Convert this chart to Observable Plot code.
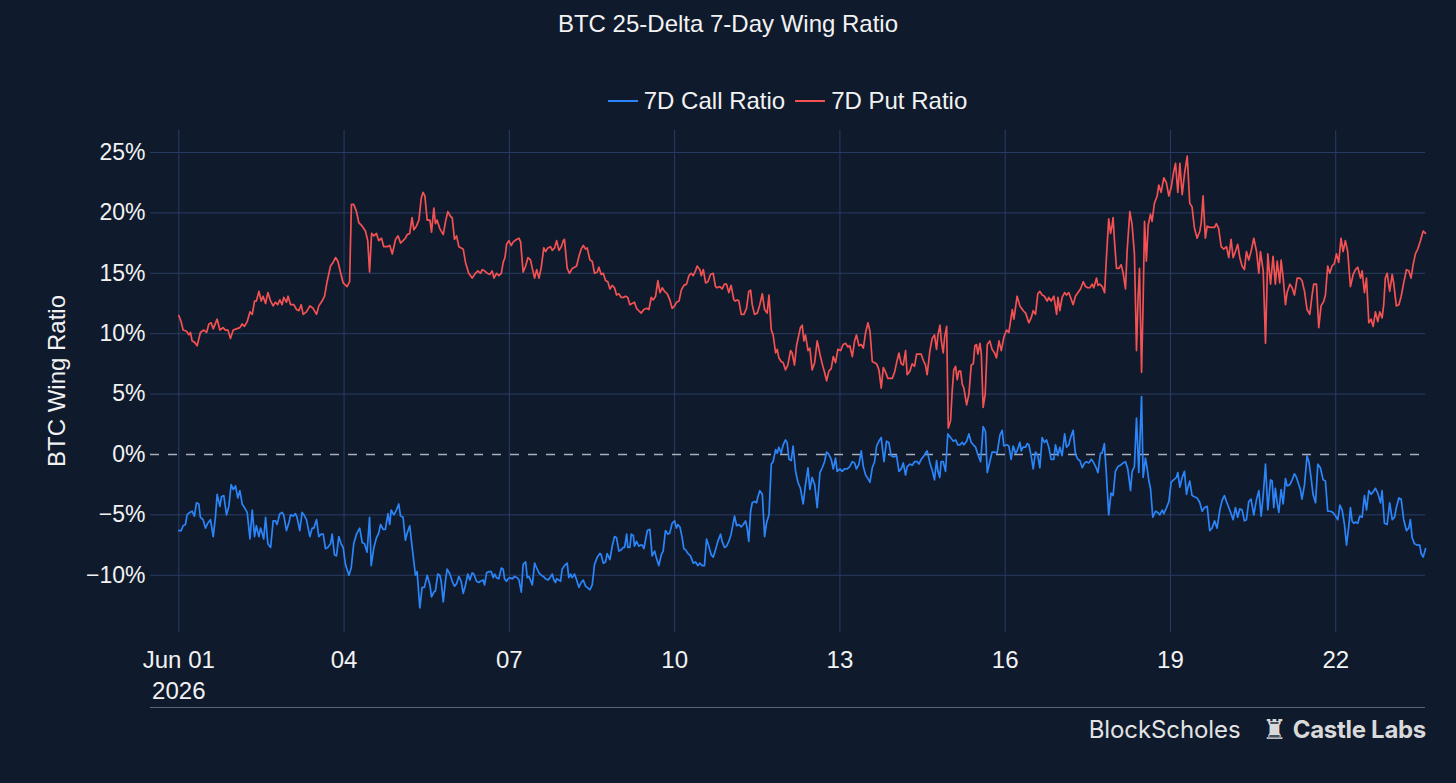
<!DOCTYPE html>
<html>
<head>
<meta charset="utf-8">
<script src="https://cdn.jsdelivr.net/npm/d3@7"></script>
<script src="https://cdn.jsdelivr.net/npm/@observablehq/plot@0.6"></script>
<style>
  html, body { margin: 0; padding: 0; background: #0f1a2d; }
  body { font-family: "Liberation Sans", Arial, sans-serif; color: #f2f2f2; }
  #wrap { position: relative; width: 1456px; height: 783px; overflow: hidden; background: #0f1a2d; }
  #title { height: 48px; line-height: 48px; text-align: center; font-size: 24px; }
  #legend { box-sizing: border-box; height: 72px; padding: 34px 31px 0 150px; display: flex; justify-content: center; font-size: 24px; line-height: 24px; }
  .item { display: flex; align-items: center; margin: 0 5px; }
  .sw { display: inline-block; width: 30px; height: 0; border-top: 2px solid; margin-right: 6px; }
  #ylabel { position: absolute; left: 57px; top: 381px; transform: translate(-50%, -50%) rotate(-90deg); font-size: 24px; white-space: nowrap; }
  #rule { position: absolute; left: 150px; top: 707px; width: 1275px; border-top: 1px solid #5d6679; }
  #logos { position: absolute; right: 30px; top: 708px; height: 42px; display: flex; align-items: center; color: #e3e3e3; }
  #bs { font-family: Inter, "Open Sans", sans-serif; font-weight: 400; font-size: 24px; letter-spacing: -0.1px; margin-right: 22px; }
  #castle { font-family: "DejaVu Sans", sans-serif; font-size: 27px; margin-right: 6px; color: #d9d9d9; }
  #cl { font-family: Inter, "Open Sans", sans-serif; font-weight: 700; font-size: 24px; letter-spacing: -0.3px; color: #d9d9d9; }
</style>
</head>
<body>
<div id="wrap">
  <div id="title"></div>
  <div id="legend"></div>
  <div id="chart"></div>
  <div id="ylabel"></div>
  <div id="rule"></div>
  <div id="logos"><span id="bs">BlockScholes</span><span id="castle">♜</span><span id="cl">Castle Labs</span></div>
</div>
<script>
// ---- data: [hours since 2026-06-01 00:00 UTC, ratio in %] ----
const putRatio = [[0,11.5],[1,11.0],[1.9,10.3],[3.4,10.2],[4.4,9.9],[5.1,10.1],[5.8,9.4],[6.8,9.3],[8,9.0],[9.4,10.1],[10.9,10.3],[12.1,10.1],[13.1,10.8],[14.1,10.9],[15,10.4],[16.7,11.2],[17.9,10.3],[19.3,10.5],[20.3,10.3],[21.4,10.3],[22.5,9.6],[23.7,10.3],[25.1,10.4],[26.6,10.5],[27.6,10.8],[28.6,10.6],[29.8,11.0],[31,11.8],[32,11.6],[33,12.7],[33.8,12.7],[34.9,13.5],[35.9,12.7],[36.7,13.1],[37.8,12.5],[38.8,13.4],[40,12.7],[41.1,12.3],[42.1,12.6],[43.1,12.4],[44,12.8],[45,12.4],[45.7,13.0],[46.9,12.6],[47.6,13.1],[48.7,12.4],[50.1,12.4],[51.3,12.0],[52.3,11.9],[53.3,12.4],[54.2,11.6],[55.6,11.8],[57.1,12.3],[58.5,12.1],[60,11.6],[61,12.3],[62.4,12.7],[63.5,13.1],[64.6,14.3],[66.1,15.6],[67.2,15.9],[68.3,16.3],[69.3,16.0],[70.4,15.1],[71.6,14.2],[73.3,13.9],[74.4,14.3],[75.2,20.7],[76.2,20.7],[77.4,20.1],[78.4,19.2],[79.9,18.9],[81.3,18.5],[82.3,17.7],[83.1,15.1],[84,18.3],[85,18.1],[86.1,18.3],[87.1,17.7],[88.3,17.9],[89.3,17.2],[90.8,17.2],[91.9,17.3],[93,16.6],[94.4,17.8],[95.5,18.1],[96.6,17.5],[97.7,17.7],[98.7,17.9],[99.5,18.2],[100.6,18.3],[101.6,19.6],[102.4,18.6],[103.5,18.9],[104.6,19.4],[105.6,21.2],[106.4,21.7],[107.2,21.4],[108.2,19.4],[109.4,19.4],[110.1,18.4],[111.1,20.4],[111.8,19.1],[112.5,19.4],[113.7,18.7],[115.2,18.2],[116.2,19.3],[117.2,20.1],[118.4,19.7],[119.1,19.6],[120.1,17.8],[121,18.1],[122,17.2],[123,17.1],[123.9,17.0],[124.9,15.9],[126.3,15.0],[127.8,14.6],[129.2,15.0],[130.3,15.2],[131.4,15.0],
[132.2,15.3],[133.2,15.2],[134.4,15.0],[135.5,14.9],[136.5,15.2],[137.3,14.6],[138.4,15.0],[139.4,14.8],[140.5,15.0],[141.3,15.9],[142.1,16.3],[142.8,17.4],[143.8,17.7],[144.8,17.3],[145.7,17.6],[147.1,17.8],[148.2,17.9],[148.9,17.6],[150,15.1],[151.1,15.6],[152.1,16.3],[153.2,16.1],[154,15.4],[155,14.6],[155.9,15.3],[156.9,14.6],[157.9,15.5],[159,17.1],[159.8,16.8],[160.8,17.1],[161.9,17.2],[162.7,16.9],[163.7,17.1],[164.6,17.7],[165.6,16.9],[166.6,17.2],[167.5,17.7],[168,17.8],[169.2,15.4],[170.2,15.0],[171.4,15.4],[172.4,15.5],[173.3,15.6],[174.3,16.4],[175.3,17.0],[176.2,17.3],[177.2,17.0],[177.9,17.1],[179.1,16.1],[180.1,16.0],[181.1,15.0],[182.3,15.1],[183,15.5],[184,14.9],[184.9,15.0],[185.9,14.4],[186.9,14.3],[187.8,13.7],[188.8,14.0],[189.8,13.8],[190.7,13.2],[191.7,13.3],[192.7,13.0],[193.6,13.0],[194.6,13.1],[195.6,13.0],[196.5,12.4],[197.5,12.5],[198.5,12.6],[199.4,12.1],[200.4,11.9],[201.4,11.7],[202.6,12.0],[203.8,12.1],[204.8,12.0],[205.8,13.0],[206.7,12.8],[207.7,13.1],[208.7,14.4],[209.6,13.4],[210.6,13.8],[211.6,13.5],[212.8,13.3],[213.9,12.8],[214.9,12.1],[216,12.3],[216.8,12.6],[217.9,12.7],[218.9,13.6],[220,14.0],[221.2,14.1],[222.2,14.8],[223.2,15.0],[224.1,14.8],[225.1,15.2],[225.8,15.6],[227,15.3],[227.6,14.8],[228.5,15.3],[229.5,14.2],[230.5,14.3],[231.6,14.9],[232.8,15.0],[233.8,13.9],[234.5,13.8],[235.7,13.9],[236.7,13.7],[237.7,14.1],[238.6,14.1],[239.6,13.4],[240.6,14.0],[241.8,12.8],[242.5,12.7],[243.3,12.8],[244,12.7],[245,11.6],[246.2,11.6],[247.3,12.1],[248.3,13.5],[249.1,13.6],[249.8,12.4],[250.8,11.6],[252,11.7],[253.1,12.4],[254.2,13.3],[255.2,12.0],[256.3,11.7],[257.1,13.2],[258.1,10.3],[258.9,9.9],[260,8.4],[260.7,8.7],[261.4,8.0],[262.4,7.7],[263.3,7.6],[264.3,7.0],[265.3,7.4],[266.5,8.6],[267.2,8.4],[268.2,7.4],[269.1,9.0],[270.1,9.9],[270.8,10.5],
[271.6,10.7],[272.3,9.4],[273,9.9],[274.1,8.6],[274.9,8.8],[275.9,7.0],[277,7.6],[278.1,9.4],[279.3,8.3],[280.3,7.5],[281.3,6.8],[282.2,6.1],[283.2,6.9],[284.2,7.1],[285.1,8.1],[286.1,7.6],[287.1,8.7],[288.3,8.6],[289.4,9.1],[290.5,9.2],[291.5,8.9],[292.3,9.0],[293.4,8.1],[294.4,9.4],[295.2,9.9],[296.3,9.0],[297.3,9.1],[298.2,8.8],[299.2,10.1],[300.2,10.9],[301.1,10.2],[302.1,7.7],[303.1,7.6],[304,7.5],[305,7.0],[306,5.5],[306.9,7.2],[307.9,6.8],[308.9,6.3],[309.8,6.3],[310.8,6.3],[311.8,6.8],[312.7,7.6],[313.7,8.4],[314.7,7.5],[315.6,7.4],[316.6,8.6],[317.3,6.6],[318.5,6.9],[319.5,7.5],[320.5,7.3],[321.4,8.3],[322.4,8.3],[323.4,8.3],[324.3,7.8],[325.3,7.4],[326,6.6],[327.2,8.6],[328.2,9.6],[329.2,9.9],[330.1,8.7],[330.7,9.9],[331.6,10.7],[332.1,9.5],[333,8.4],[333.6,9.7],[334.5,10.6],[335.2,2.2],[336.2,2.8],[336.9,5.2],[337.6,7.0],[338.4,7.3],[339.1,6.2],[339.8,6.9],[340.6,6.9],[341.3,5.8],[342,5.5],[343.2,4.1],[344.2,5.0],[345.2,7.4],[346.1,7.5],[346.8,9.0],[347.5,9.1],[348.1,8.3],[349,9.2],[349.6,8.3],[350.4,3.9],[351.3,5.0],[352.2,9.1],[353.3,9.4],[354.3,8.7],[355.4,8.4],[356.2,8.0],[357.3,9.4],[358.3,8.6],[359.4,9.7],[360.6,10.3],[361.6,10.1],[363.1,12.0],[363.8,11.2],[365.2,13.1],[366.4,12.3],[367.9,11.9],[368.9,11.7],[370.3,10.9],[371.3,11.3],[372.2,11.9],[373.2,11.6],[374.2,13.3],[375.1,13.5],[376.1,13.2],[377.1,13.1],[378.3,12.7],[379,13.0],[380,12.7],[381.2,13.1],[382.4,11.6],[383,13.0],[383.8,11.9],[384.8,13.0],[385.9,13.4],[386.7,13.2],[387.7,13.4],[388.5,13.0],[389.6,12.4],[390.6,13.1],[391.7,13.4],[392.8,13.7],[394,14.3],[395,13.9],[396,13.8],[396.9,13.8],[397.9,14.1],[398.6,13.8],[399.8,14.6],[400.4,14.0],[401.2,14.1],[402.3,13.9],[403.3,13.4],
[404.1,16.3],[405.1,19.5],[405.9,18.3],[406.6,19.0],[407,19.6],[407.6,17.7],[408.5,15.4],[409.5,15.4],[410.5,15.7],[411.4,15.0],[412.4,13.7],[413.1,16.8],[414.3,20.1],[415.3,19.0],[416.3,16.6],[417.2,8.6],[417.9,13.0],[418.5,15.4],[419.4,6.8],[420.1,12.7],[420.7,19.3],[421.5,16.0],[422.3,19.0],[423.3,19.9],[424,19.3],[425,20.8],[426.2,21.4],[426.9,22.3],[427.9,21.7],[429.1,22.9],[430.2,22.5],[431.3,21.4],[432.3,22.1],[433.4,23.4],[434.2,24.1],[435.2,21.7],[436.1,24.1],[437.1,21.5],[438.1,23.2],[439.3,24.7],[440.4,20.8],[441.4,20.5],[442.4,18.8],[443.6,17.9],[444.8,18.5],[445.4,19.2],[446.2,21.4],[447.2,17.9],[448,18.9],[449.1,18.8],[450.1,18.8],[451.2,18.8],[452,19.1],[453,18.7],[454.1,17.2],[455.2,17.0],[456.4,17.2],[457.4,16.3],[458.4,17.8],[459.3,16.3],[460.3,16.8],[461.3,17.4],[462.2,16.3],[463.2,15.6],[464.2,15.3],[465.1,16.8],[466.1,16.1],[467.1,16.8],[468.3,17.9],[469.5,16.8],[470.5,15.0],[471.2,16.8],[472.4,15.2],[473.4,9.2],[474.4,16.6],[475.6,14.1],[476.7,16.4],[477.7,14.1],[478.5,16.0],[479.6,14.2],[480.2,16.1],[481.1,14.6],[482.1,12.4],[482.8,13.4],[484,14.1],[485,13.8],[486,13.2],[487.2,14.6],[488.3,14.6],[489.3,14.4],[490.4,13.5],[491.5,12.0],[492.7,11.6],[493.7,13.2],[494.4,14.1],[495.6,14.1],[496.6,10.5],[497.6,12.3],[498.8,12.7],[499.5,13.2],[500.5,15.6],[501.4,15.0],[502.4,15.6],[503.4,15.8],[504.3,16.6],[505.3,15.9],[506.3,17.9],[507.2,16.8],[508.2,17.7],[509.2,16.8],[510.4,13.9],[511.6,14.9],[512.6,15.3],[513.6,15.5],[514.8,14.6],[515.5,15.2],[516.5,13.4],[517.4,14.6],[518.4,10.9],[519.4,11.2],[520.3,10.6],[521.3,11.8],[522.3,11.0],[523.2,11.8],[524.2,11.3],[524.9,12.4],[525.6,14.6],[526.4,15.0],[527.5,13.5],[528.6,14.9],[529.3,14.1],[530.4,12.3],[531.5,12.4],[532.5,13.1],[533.6,14.2],[534.8,15.3],[535.8,15.2],[536.8,14.6],[537.7,15.7],[538.7,16.6],[539.7,17.0],[540.9,17.7],[542.1,18.5],[543.1,18.3]];

const callRatio = [[0,-6.3],[1,-6.3],[1.9,-5.9],[2.9,-5.8],[3.6,-5.0],[4.8,-4.8],[5.8,-4.7],[6.8,-5.1],[7.7,-4.0],[8.7,-4.1],[9.4,-5.2],[10.6,-5.4],[11.6,-6.1],[12.6,-5.7],[13.8,-5.4],[15,-6.8],[16,-5.1],[16.7,-3.3],[17.9,-4.3],[18.6,-3.5],[19.6,-3.4],[20.8,-5.0],[21.8,-4.3],[22.8,-2.5],[23.7,-2.9],[24.7,-2.6],[25.7,-3.6],[26.6,-3.0],[27.6,-4.1],[28.6,-4.4],[29.8,-4.8],[31,-7.0],[32,-4.6],[33,-6.8],[33.8,-5.9],[34.9,-6.8],[35.6,-6.1],[36.3,-6.5],[37,-7.0],[37.8,-5.2],[38.8,-7.4],[40,-7.7],[41.1,-5.5],[42.1,-5.5],[42.8,-5.8],[44,-4.9],[45,-4.8],[45.7,-5.0],[46.9,-6.3],[47.9,-5.7],[48.7,-5.0],[49.8,-5.1],[50.8,-4.9],[51.5,-5.2],[52.7,-6.3],[53.7,-4.8],[54.5,-5.0],[55.6,-5.4],[57.1,-6.8],[58.1,-6.1],[58.8,-6.1],[60,-5.4],[61,-6.8],[62,-6.6],[62.9,-6.6],[63.9,-7.8],[64.9,-7.7],[66.1,-7.4],[66.8,-6.6],[67.8,-8.3],[68.7,-8.4],[69.7,-6.8],[70.7,-7.4],[71.6,-7.7],[72.6,-9.1],[74.1,-10.0],[75.1,-9.4],[76.2,-7.4],[77.4,-6.6],[78.8,-6.1],[79.9,-7.3],[80.9,-7.4],[82,-8.1],[83.1,-5.2],[83.8,-9.2],[85,-7.7],[86.1,-6.9],[87.1,-6.5],[87.9,-5.8],[89,-6.2],[90,-6.2],[91.1,-4.9],[91.9,-5.8],[92.5,-4.6],[93.7,-5.0],[94.8,-4.6],[95.8,-4.1],[96.6,-5.1],[97.7,-5.2],[98.7,-7.1],[99.5,-6.5],[100.6,-5.9],[101.6,-7.6],[102.4,-8.9],[103.1,-10.0],[103.8,-9.7],[105,-12.7],[106,-11.0],[107,-11.0],[108.2,-10.0],[109.4,-10.8],[110.1,-11.8],[111.1,-11.4],[111.8,-11.3],[112.8,-9.9],[113.7,-10.0],[114.3,-10.5],[115.2,-12.2],[116.2,-10.4],[116.9,-9.5],[118.1,-9.9],[119.1,-10.5],[120.1,-10.9],[121,-10.7],[122,-10.1],[123,-10.5],[123.9,-11.5],[124.9,-10.8],[125.9,-9.9],[126.8,-10.4],[127.8,-9.8],[128.5,-9.9],[129.7,-10.5],[130.7,-10.6],[131.4,-10.5],
[132.6,-10.4],[133.2,-10.8],[134.1,-9.8],[135.1,-9.7],[136.1,-9.7],[137,-10.2],[137.6,-9.9],[138.4,-10.2],[139.4,-10.3],[140.5,-9.4],[141.3,-9.5],[141.9,-10.3],[142.8,-10.5],[143.4,-10.3],[144.2,-10.2],[145.3,-10.3],[146.3,-10.1],[147.4,-10.2],[148.2,-10.4],[149.2,-11.4],[150,-9.1],[151.1,-8.9],[151.8,-10.2],[152.5,-10.1],[153.2,-10.4],[154,-10.8],[155,-9.0],[155.9,-9.4],[156.9,-9.8],[157.9,-10.0],[158.8,-10.1],[159.8,-10.3],[160.8,-10.4],[161.7,-10.2],[162.7,-9.9],[163.4,-10.4],[164.1,-10.6],[164.6,-10.3],[165.6,-10.4],[166.3,-10.5],[167,-9.5],[168,-9.2],[169.2,-9.0],[169.9,-10.2],[170.7,-9.9],[171.4,-10.2],[172.4,-9.9],[173.3,-10.4],[174.3,-11.0],[175.3,-10.6],[176.2,-10.4],[177.2,-10.9],[177.9,-11.0],[179.1,-11.2],[180.1,-10.8],[181.1,-9.1],[182.3,-8.5],[183.4,-8.2],[184,-8.3],[184.9,-9.0],[185.9,-8.9],[186.6,-8.2],[187.8,-8.7],[188.8,-7.6],[189.8,-6.8],[190.7,-6.9],[191.7,-8.0],[192.7,-7.9],[193.6,-7.7],[194.2,-7.7],[195.1,-6.6],[195.6,-7.7],[196.5,-7.7],[197.1,-6.6],[198,-6.7],[198.5,-7.6],[199.4,-7.2],[200.4,-7.6],[201.2,-7.5],[201.9,-7.5],[202.6,-7.8],[203.3,-7.1],[204.1,-6.3],[205.2,-6.2],[206.2,-8.4],[207.3,-8.0],[208.1,-8.6],[209.1,-9.2],[210.2,-8.3],[211,-8.0],[212,-6.3],[213.1,-6.6],[213.9,-6.5],[214.9,-5.7],[216,-5.5],[216.8,-6.1],[217.4,-5.8],[218.3,-6.0],[219.3,-6.9],[220,-7.8],[220.8,-7.9],[221.8,-8.2],[222.9,-8.4],[224.1,-9.0],[225.1,-8.9],[226.1,-9.2],[227,-9.0],[228,-9.2],[229,-9.2],[229.9,-7.0],[230.9,-7.6],[231.9,-8.3],[232.8,-8.5],[233.8,-7.9],[234.8,-7.2],[236,-6.6],[236.7,-7.2],[237.7,-7.7],[238.6,-7.6],[239.6,-7.2],[240.6,-6.6],[242.1,-5.1],[243,-5.9],[244,-5.8],[245,-6.0],[245.9,-5.8],[246.9,-5.5],[247.6,-6.1],[248.3,-7.2],[249.1,-4.7],[249.8,-4.0],[250.8,-3.9],[251.7,-4.0],[252.3,-3.5],[253.1,-3.0],[254.2,-3.3],[255.2,-6.8],[256,-5.7],[257.1,-5.0],[258.1,-0.8],[258.9,-0.6],[260,0.4],[260.7,0.1],[261.4,0.6],[262.4,0.1],[263.3,0.8],[264.3,1.2],[265,1.0],[265.8,-0.4],[266.8,-0.5],[267.6,0.7],[268.7,-1.4],[269.7,-2.3],[270.8,-2.8],
[272,-4.1],[273,-2.5],[274.1,-1.1],[274.9,-2.9],[275.9,-1.9],[277,-2.5],[278.1,-4.4],[279.3,-1.5],[280.3,-1.1],[281.3,-0.6],[282.2,0.2],[283.2,0.0],[284.2,-0.4],[285.1,-1.2],[286.1,-0.3],[286.8,-1.4],[288,-1.2],[289,-1.4],[290,-1.2],[291.2,-1.2],[292.3,-1.0],[293.4,-0.6],[294.4,-0.7],[295.2,-1.2],[296.3,-0.8],[297.3,0.3],[298.2,-1.0],[299.2,-1.7],[300.2,-2.0],[301.1,-2.3],[302.1,-1.1],[303.1,-0.6],[304,0.7],[305,1.1],[306,1.4],[307.2,-0.6],[308.3,1.1],[309.3,1.0],[310.3,-0.1],[311.5,-0.2],[312.7,-0.1],[313.7,-1.4],[314.7,-1.2],[315.6,-0.7],[316.6,-1.7],[317.3,-1.0],[318.5,-0.8],[319.5,-0.9],[320.5,-0.6],[321.7,-0.6],[322.4,-0.8],[323.4,-0.4],[324.3,-0.2],[325.3,0.1],[326,0.3],[327.2,-0.7],[328.2,-1.3],[329.2,-2.1],[330.1,-0.5],[330.7,-1.4],[331.5,-1.9],[332.1,-0.6],[333,-0.6],[334,-1.4],[335,1.7],[336.2,1.4],[337.4,1.1],[338.4,1.2],[339.4,0.8],[340.3,0.8],[341.3,1.0],[342,0.8],[343.2,1.1],[344.2,1.7],[345.2,1.0],[346.1,0.8],[347.1,0.6],[348.1,0.0],[349.3,-0.6],[350.4,2.3],[351.4,1.9],[352.2,-1.5],[353.3,-0.6],[354.3,0.2],[355.4,0.2],[356.5,0.1],[357.7,1.6],[358.7,2.0],[359.4,0.7],[360.6,0.8],[361.6,0.7],[362.6,-0.4],[363.5,0.7],[364.5,0.1],[365.2,0.3],[366.4,1.0],[367,0.3],[367.8,0.6],[368.9,0.6],[369.6,0.9],[370.3,0.8],[371.3,-0.1],[372.2,-1.2],[373.2,0.2],[374.2,-0.1],[375.1,-1.1],[376.1,1.4],[377.1,1.0],[378,1.2],[379,0.6],[380,-0.4],[381.2,-0.4],[381.9,0.8],[383,-0.1],[383.8,0.6],[384.8,-0.1],[385.9,1.7],[386.7,0.6],[387.7,0.8],[388.5,1.4],[389.6,2.0],[390.6,0.0],[391.7,-0.4],[392.5,-0.5],[393.6,-1.1],[394.6,-0.7],[395.4,-0.6],[396.5,-0.7],[397.5,-0.4],[398.3,-0.6],[399.4,-1.0],[400.4,-1.5],[401.5,0.1],
[402.2,0.1],[403.2,0.9],[404.1,-1.7],[405.1,-5.0],[406.1,-3.2],[407,-3.4],[408,-1.4],[409.1,-1.0],[410.2,-0.9],[411.4,-0.7],[412.4,-0.6],[413.4,-1.2],[414.6,-3.0],[415.3,-1.4],[416.3,-1.0],[417.2,3.0],[418.2,-1.5],[419.4,4.8],[420.1,-1.9],[421.1,-0.3],[421.8,-1.1],[422.6,-2.2],[423.3,-2.8],[424.3,-5.2],[425.5,-4.7],[426.5,-4.8],[427.3,-5.0],[428.4,-4.6],[429.1,-4.9],[430.3,-4.4],[431.3,-3.9],[432.3,-2.3],[433.4,-2.1],[434.6,-1.9],[435.2,-1.5],[436.1,-2.7],[437.1,-1.9],[438.1,-1.4],[439,-3.3],[439.5,-2.8],[440.4,-2.2],[441.4,-3.4],[442.4,-3.5],[443.6,-3.6],[444.8,-4.0],[445.8,-4.7],[446.8,-4.4],[448,-4.3],[449.1,-6.3],[450.1,-6.1],[451.2,-5.5],[452.3,-6.1],[453.5,-4.6],[454.5,-3.8],[455.5,-3.4],[456.4,-3.9],[457.4,-4.4],[458.4,-4.9],[459.3,-5.4],[460.3,-4.4],[461.3,-5.2],[462.2,-4.5],[463.2,-4.6],[464.2,-5.5],[465.1,-5.4],[466.1,-3.9],[467.1,-3.7],[468.3,-5.0],[469.5,-3.7],[470.5,-3.0],[471.5,-5.1],[472.4,-3.4],[473.4,-0.8],[474.4,-4.6],[475.6,-2.1],[476.3,-2.2],[477,-4.4],[477.7,-2.8],[478.5,-4.0],[479.2,-4.8],[480.2,-2.9],[481.1,-4.1],[482.1,-2.0],[482.8,-2.6],[484,-2.5],[485,-2.1],[486,-1.6],[486.9,-1.9],[487.9,-2.5],[488.6,-2.9],[489.3,-3.7],[490.4,-2.5],[491.5,-0.1],[492.3,-0.6],[493.3,-2.0],[494.1,-3.3],[495.2,-4.0],[496.2,-0.8],[497.3,-1.1],[498.5,-2.1],[499.5,-2.2],[500.5,-4.7],[501.7,-4.7],[502.8,-4.8],[503.9,-5.1],[504.9,-5.4],[505.8,-4.2],[506.8,-4.6],[507.8,-5.8],[508.7,-7.5],[509.7,-5.9],[510.4,-4.4],[511.1,-5.5],[511.9,-5.7],[512.6,-5.6],[513.6,-5.7],[514.5,-5.1],[515.5,-5.2],[516.5,-3.4],[517.4,-4.6],[518.4,-3.0],[519.4,-3.3],[520.3,-3.1],[521.3,-2.8],[522.3,-3.2],[523.5,-4.0],[524.2,-3.0],[525.2,-5.7],[526.4,-5.8],[527.5,-4.0],[528.6,-5.4],[529.6,-5.2],[530.4,-4.4],[531.5,-3.6],[532.5,-3.7],[533.6,-5.4],[534.8,-6.3],[535.8,-6.1],[536.5,-5.4],[537.3,-6.9],[538.3,-7.4],[539.4,-7.5],[540.6,-7.5],[541.2,-8.2],[542.1,-8.5],[543.1,-7.8]];

const seriesNames = ["7D Call Ratio", "7D Put Ratio"];
const seriesColors = ["#2b85f8", "#f45252"];
const xTickDays = [1, 4, 7, 10, 13, 16, 19, 22];
const xTickLabels = ["Jun 01\n2026", "04", "07", "10", "13", "16", "19", "22"];
const yTicks = [25, 20, 15, 10, 5, 0, -5, -10];
const yTickLabels = ["25%", "20%", "15%", "10%", "5%", "0%", "−5%", "−10%"];
const titleText = "BTC 25-Delta 7-Day Wing Ratio";
const yAxisLabel = "BTC Wing Ratio";

// ---- build ----
const start = Date.UTC(2026, 5, 1);
const toDate = h => new Date(start + h * 3600e3);
const rows = [
  ...callRatio.map(([h, v]) => ({date: toDate(h), value: v, series: seriesNames[0]})),
  ...putRatio.map(([h, v]) => ({date: toDate(h), value: v, series: seriesNames[1]}))
];
const xTicks = xTickDays.map(d => new Date(Date.UTC(2026, 5, d)));
const xLabelMap = new Map(xTicks.map((d, i) => [+d, xTickLabels[i]]));
const yLabelMap = new Map(yTicks.map((d, i) => [d, yTickLabels[i]]));

document.getElementById("title").textContent = titleText;
document.getElementById("ylabel").textContent = yAxisLabel;
const legend = document.getElementById("legend");
seriesNames.forEach((name, i) => {
  const it = document.createElement("div");
  it.className = "item";
  const sw = document.createElement("span");
  sw.className = "sw";
  sw.style.borderColor = seriesColors[i];
  const tx = document.createElement("span");
  tx.textContent = name;
  it.appendChild(sw); it.appendChild(tx);
  legend.appendChild(it);
});

const gridColor = "#2a3c62";
const chart = Plot.plot({
  width: 1456,
  height: 587,
  marginTop: 10,
  marginBottom: 75,
  marginLeft: 150,
  marginRight: 31,
  style: {background: "transparent", color: "#f2f2f2", fontFamily: "'Liberation Sans', Arial, sans-serif", fontSize: "23px", overflow: "visible"},
  x: {type: "utc", domain: [toDate(-12.33), toDate(543.1)]},
  y: {domain: [-14.74, 26.82]},
  color: {domain: seriesNames, range: seriesColors},
  marks: [
    Plot.gridY(yTicks.filter(d => d !== 0), {stroke: gridColor, strokeOpacity: 1, strokeWidth: 1}),
    Plot.gridX(xTicks, {stroke: gridColor, strokeOpacity: 1, strokeWidth: 1}),
    Plot.ruleY([0], {stroke: "#a8aebb", strokeWidth: 1.5, strokeDasharray: "9,9"}),
    Plot.line(rows, {x: "date", y: "value", z: "series", stroke: "series", strokeWidth: 1.7, curve: "linear"}),
    Plot.axisY(yTicks, {tickSize: 0, tickPadding: 5, tickFormat: d => yLabelMap.get(d), label: null, fontSize: 23}),
    Plot.axisX(xTicks, {tickSize: 0, tickPadding: 13, tickFormat: d => xLabelMap.get(+d), label: null, fontSize: 24, lineHeight: 1.3})
  ]
});
document.getElementById("chart").appendChild(chart);
</script>
</body>
</html>
